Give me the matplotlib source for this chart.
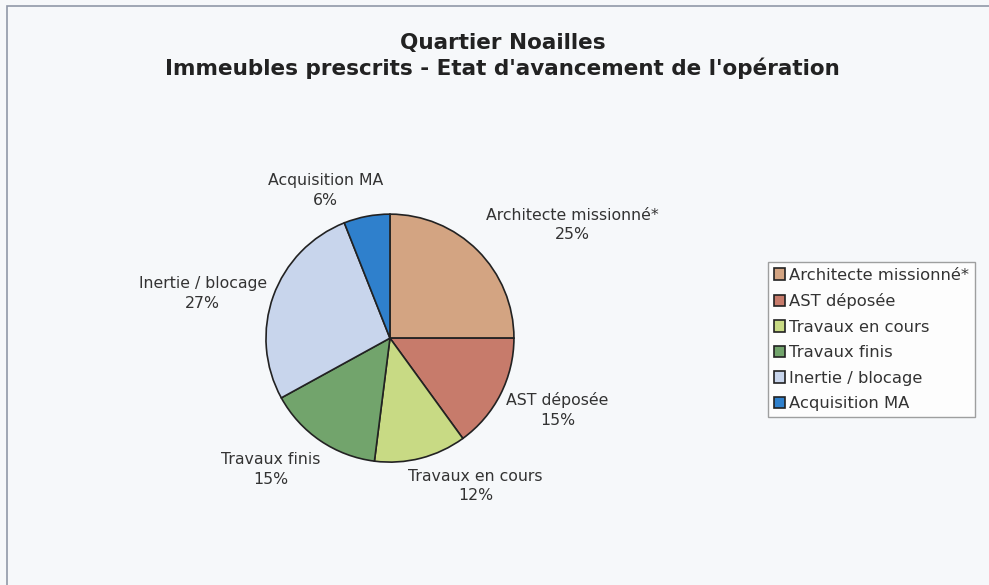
import matplotlib.pyplot as plt
from matplotlib.patches import Rectangle

# Données du graphique
categories = ["Architecte missionné*", "AST déposée", "Travaux en cours",
              "Travaux finis", "Inertie / blocage", "Acquisition MA"]
valeurs = [25, 15, 12, 15, 27, 6]
couleurs = ["#D3A482", "#C77B6B", "#C8DA84", "#72A46C", "#C8D5EC", "#2F80CC"]

fig = plt.figure(figsize=(9.89, 5.85), dpi=100)
fig.patch.set_facecolor("#F6F8FA")

# cadre du graphique
fig.patches.append(Rectangle((7 / 989, -0.05), 1.1, 1 - 6 / 585 + 0.05,
                             transform=fig.transFigure, fill=False,
                             edgecolor="#9098A8", linewidth=1.2))

ax = fig.add_axes([0.2376, 0.157, 0.3134, 0.530])
labels = [f"{c}\n{v}%" for c, v in zip(categories, valeurs)]
wedges, textes = ax.pie(valeurs, colors=couleurs, startangle=90, counterclock=False,
                        labels=labels, labeldistance=1.2,
                        wedgeprops=dict(edgecolor="#222222", linewidth=1.2),
                        textprops=dict(fontsize=11.3, color="#333333"))

# placement des étiquettes à la manière d'Excel (en unités du rayon)
pos_etiquettes = [(1.47, 0.91), (1.35, -0.58), (0.69, -1.19),
                  (-0.96, -1.06), (-1.51, 0.36), (-0.52, 1.19)]
for t, p in zip(textes, pos_etiquettes):
    t.set_position(p)
    t.set_ha("center")
    t.set_va("center")
    t.set_multialignment("center")
    t.set_linespacing(1.35)
ax.set_xlim(-1.25, 1.25)
ax.set_ylim(-1.25, 1.25)
ax.set_aspect("equal")

fig.text(0.508, 1 - 43 / 585, "Quartier Noailles", ha="center", va="center",
         fontsize=15.5, fontweight="bold", color="#222222")
fig.text(0.508, 1 - 68 / 585, "Immeubles prescrits - Etat d'avancement de l'opération",
         ha="center", va="center", fontsize=15.5, fontweight="bold", color="#222222")

leg = fig.legend(wedges, categories, loc="upper left",
                 bbox_to_anchor=(768 / 989, 1 - 262 / 585), fontsize=11.8,
                 handlelength=0.7, handleheight=0.7, handletextpad=0.25,
                 labelspacing=0.64, borderpad=0.35, borderaxespad=0, fancybox=False,
                 frameon=True, edgecolor="#888888", labelcolor="#333333")
leg.get_frame().set_facecolor("white")
leg.get_frame().set_linewidth(1.0)

plt.savefig("out.png", dpi=100, facecolor=fig.get_facecolor())
